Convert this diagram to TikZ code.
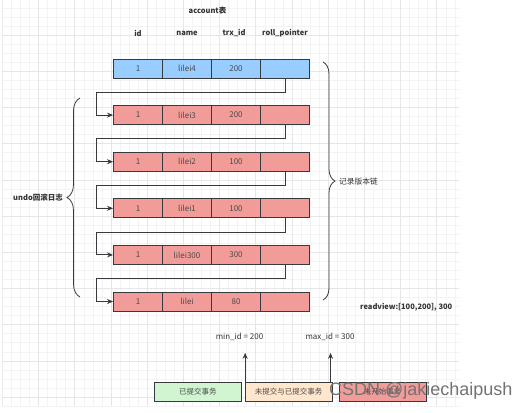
\documentclass[tikz,border=0pt]{standalone}
\usepackage{fontspec}
\setmainfont{Noto Sans CJK SC}
\newfontfamily\wmfont{Liberation Sans}
\usetikzlibrary{arrows.meta,decorations.pathreplacing,calc}
\definecolor{bluef}{HTML}{99CCFF}
\definecolor{redf}{HTML}{F19C99}
\definecolor{greenf}{HTML}{D0F5D0}
\definecolor{peachf}{HTML}{FFE6CC}
\definecolor{bord}{HTML}{36393D}
\definecolor{txt}{HTML}{333333}
\definecolor{celltxt}{HTML}{4A4A4A}
\definecolor{gminor}{HTML}{F3F3F3}
\definecolor{gmajor}{HTML}{E6E6E6}
\begin{document}
\begin{tikzpicture}[x=1pt,y=-1pt,
  cell/.style={draw=bord,line width=0.9pt,fill=redf,minimum width=49pt,minimum height=19pt,inner sep=0pt,font=\fontsize{8}{9}\selectfont,text=celltxt},
  bbox/.style={draw=bord,line width=0.9pt,minimum width=87pt,minimum height=19.4pt,inner sep=0pt,font=\fontsize{7.5}{8}\selectfont,text=celltxt},
  hdr/.style={font=\fontsize{7.5}{8}\selectfont\bfseries,text=txt,inner sep=1pt},
  lbl/.style={font=\fontsize{7.7}{8}\selectfont,text=txt,inner sep=1pt},
  conn/.style={draw=bord,line width=0.9pt,-{Stealth[length=6pt,width=5pt]}},
  brc/.style={draw=bord,line width=0.8pt,decorate,decoration={brace,amplitude=12pt}},
  gminorl/.style={draw=gminor,line width=0.5pt},
  gmajorl/.style={draw=gmajor,line width=0.6pt}]
\useasboundingbox (0,0) rectangle (527,412);
\fill[white] (0,0) rectangle (527,412);
% grid
\begin{scope}
\clip (2.3,0) rectangle (459.3,406);
\foreach \i in {0,...,50} \draw[gminorl] ({2.3+9.05*\i},0) -- ({2.3+9.05*\i},406);
\foreach \j in {0,...,46} \draw[gminorl] (2.3,{-1.2+9.05*\j}) -- (459.3,{-1.2+9.05*\j});
\foreach \i in {0,...,12} \draw[gmajorl] ({2.3+36.2*\i},0) -- ({2.3+36.2*\i},406);
\foreach \j in {0,...,12} \draw[gmajorl] (2.3,{-1.2+36.2*\j}) -- (459.3,{-1.2+36.2*\j});
\end{scope}
% titles
\node[hdr] (title) at (207.5,10.7) {account表};
\node[hdr] (hid) at (138,33.3) {id};
\node[hdr] (hname) at (187,33.3) {name};
\node[hdr] (htrx) at (234,33.3) {trx\_id};
\node[hdr] (hroll) at (285,33.3) {roll\_pointer};
% row 1
\node[cell,fill=bluef] (r1-1) at (138,68.5) {1};
\node[cell,fill=bluef] (r1-2) at (187,68.5) {lilei4};
\node[cell,fill=bluef] (r1-3) at (236,68.5) {200};
\node[cell,fill=bluef] (r1-4) at (285,68.5) {};
% rows 2-6
\foreach \r/\n/\t in {2/lilei3/200,3/lilei2/100,4/lilei1/100,5/lilei300/300,6/lilei/80}{
  \pgfmathsetmacro{\yy}{68.5+46.6*(\r-1)}
  \node[cell] (r\r-1) at (138,\yy) {1};
  \node[cell] (r\r-2) at (187,\yy) {\n};
  \node[cell] (r\r-3) at (236,\yy) {\t};
  \node[cell] (r\r-4) at (285,\yy) {};
}
% connectors
\foreach \a/\b in {1/2,2/3,3/4,4/5,5/6}
  \draw[conn] (r\a-4.south) -- ++(0,13.8) -| ($(r\b-1.west)+(-17,0)$) -- (r\b-1.west);
% braces
\draw[brc,decoration={amplitude=13pt}] (80,297) -- (80,98);
\node[lbl,font=\fontsize{7.5}{8}\selectfont\bfseries,anchor=east] (undo) at (64,198) {undo回滚日志};
\draw[brc] (323,62) -- (323,300);
\node[lbl,anchor=west] (chain) at (338,182) {记录版本链};
\node[hdr,anchor=west] (rv) at (359,307.7) {readview:[100,200], 300};
% bottom
\node[bbox,fill=greenf,minimum width=87.5pt] (b1) at (197.9,392) {已提交事务};
\node[bbox,fill=peachf] (b2) at (288.6,392) {未提交与已提交事务};
\node[bbox,fill=redf] (b3) at (382.5,392) {未开始事务};
\coordinate (t1) at ($(b2.north west)+(0.5,-29)$);
\coordinate (t2) at ($(b2.north east)+(-2,-29)$);
\draw[conn] (b2.north west) ++(0.5,0) -- (t1);
\draw[conn] ($(b2.north east)+(-2,0)$) -- (t2);
\node[lbl,font=\fontsize{8}{9}\selectfont] (minid) at (239.5,336.7) {min\_id = 200};
\node[lbl,font=\fontsize{8}{9}\selectfont] (maxid) at (330,336.7) {max\_id = 300};
% watermark
\node[anchor=west,inner sep=0pt,text=black!55,font=\wmfont\fontsize{18}{20}\selectfont] (wm) at (329,391) {CSDN @jakiechaipush};
\end{tikzpicture}
\end{document}
